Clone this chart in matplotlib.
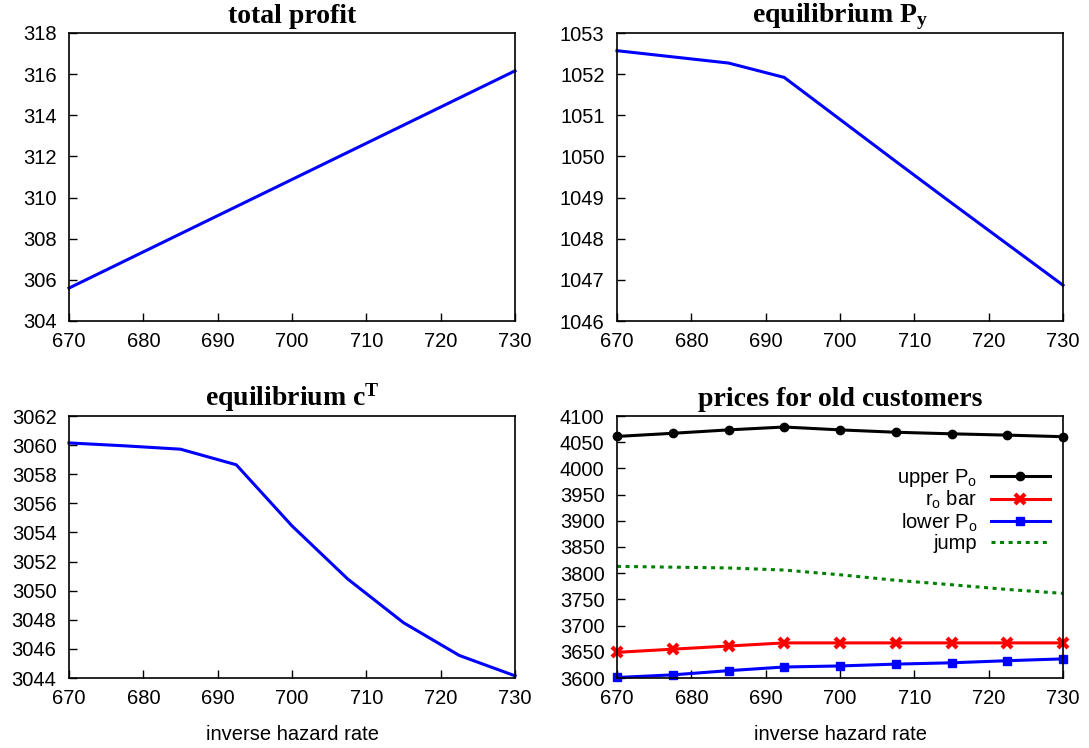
import numpy as np
import matplotlib
matplotlib.use("Agg")
import matplotlib.pyplot as plt

plt.rcParams['font.family'] = ['Liberation Sans', 'DejaVu Sans']
plt.rcParams['mathtext.fontset'] = 'custom'
plt.rcParams['mathtext.rm'] = 'Liberation Sans'
plt.rcParams['mathtext.it'] = 'Liberation Sans'
plt.rcParams['mathtext.bf'] = 'Liberation Serif:bold'

# inverse hazard rate grid
hazard = [670, 677.5, 685, 692.5, 700, 707.5, 715, 722.5, 730]

total_profit = [305.6, 306.92, 308.24, 309.56, 310.88, 312.2, 313.52, 314.84, 316.16]
eq_py = [1052.57, 1052.42, 1052.27, 1051.92, 1050.9, 1049.88, 1048.87, 1047.87, 1046.87]
eq_ct = [3060.15, 3059.95, 3059.72, 3058.65, 3054.45, 3050.8, 3047.8, 3045.55, 3044.15]

upper_po = [4061, 4067, 4073.5, 4079, 4073.5, 4069, 4066, 4063.5, 4060.5]
ro_bar = [3649, 3655, 3661, 3667, 3667, 3667, 3667, 3667, 3667]
lower_po = [3601, 3606, 3614, 3621, 3623, 3626.5, 3629, 3633, 3636.5]
jump = [3813, 3811.5, 3810, 3806, 3797, 3786.5, 3778, 3769, 3761.5]

W, H = 1089, 748
FS = 14.5
fig = plt.figure(figsize=(W / 100, H / 100), dpi=100)


def make_axes(x0, y0, x1, y1):
    """Achsen aus Pixelkoordinaten (oben links Ursprung)"""
    return fig.add_axes([x0 / W, 1 - y1 / H, (x1 - x0) / W, (y1 - y0) / H])


def style(ax, ylim, yticks, title, xlabel=None):
    ax.set_xlim(670, 730)
    ax.set_xticks(np.arange(670, 731, 10))
    ax.set_ylim(*ylim)
    ax.set_yticks(yticks)
    ax.tick_params(direction='in', length=6, width=1, labelsize=FS)
    ax.tick_params(axis='y', pad=9)
    ax.tick_params(axis='x', pad=8)
    for s in ax.spines.values():
        s.set_linewidth(1.2)
    ax.set_title(title, fontsize=20, fontweight='bold', family='Liberation Serif', pad=7.5)
    if xlabel:
        ax.set_xlabel(xlabel, fontsize=FS, labelpad=12)


ax1 = make_axes(69, 33, 515, 321)
ax1.plot(hazard, total_profit, color='blue', lw=2.2, clip_on=False)
style(ax1, (304, 318), np.arange(304, 319, 2), 'total profit')

ax2 = make_axes(617, 33, 1063, 321)
ax2.plot(hazard, eq_py, color='blue', lw=2.2, clip_on=False)
style(ax2, (1046, 1053), np.arange(1046, 1054, 1), r'equilibrium $\mathbf{P_y}$')

ax3 = make_axes(69, 416, 515, 678)
ax3.plot(hazard, eq_ct, color='blue', lw=2.2, clip_on=False)
style(ax3, (3044, 3062), np.arange(3044, 3063, 2), r'equilibrium $\mathbf{c^T}$',
      'inverse hazard rate')

ax4 = make_axes(617, 416, 1063, 678)
ax4.plot(hazard, upper_po, color='black', lw=2.2, marker='o', ms=6,
         label=r'upper P$_\mathrm{o}$', clip_on=False)
ax4.plot(hazard, ro_bar, color='red', lw=2.2, marker='x', ms=7, mew=3,
         label=r'r$_\mathrm{o}$ bar', clip_on=False)
ax4.plot(hazard, lower_po, color='blue', lw=2.2, marker='s', ms=6,
         label=r'lower P$_\mathrm{o}$', clip_on=False)
ax4.plot(hazard, jump, color='green', lw=2.2, ls=(0, (1.3, 1.5)),
         label='jump', clip_on=False)
style(ax4, (3600, 4100), np.arange(3600, 4101, 50), 'prices for old customers',
      'inverse hazard rate')
ax4.legend(loc='upper right', bbox_to_anchor=(0.97, 0.805), frameon=False,
           markerfirst=False, fontsize=FS, handlelength=2.9, handletextpad=0.7,
           labelspacing=0.0, borderpad=0, borderaxespad=0)

plt.savefig("out.png", dpi=100)
